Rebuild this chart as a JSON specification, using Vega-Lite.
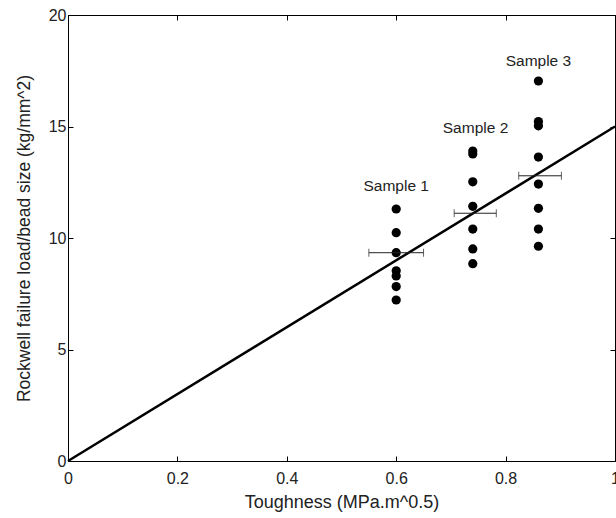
{
  "$schema": "https://vega.github.io/schema/vega-lite/v6.json",
  "width": 547,
  "height": 446,
  "autosize": {"type": "none"},
  "padding": {"left": 68, "top": 15, "right": 1, "bottom": 57},
  "background": "white",
  "config": {
    "view": {"stroke": "black", "strokeWidth": 1},
    "font": "Liberation Sans",
    "axis": {
      "grid": false,
      "domainColor": "black",
      "tickColor": "black",
      "tickSize": -5,
      "labelColor": "#222",
      "labelFontSize": 16,
      "labelFont": "Liberation Sans",
      "titleFont": "Liberation Sans",
      "titleFontWeight": "normal",
      "titleColor": "#222"
    }
  },
  "datasets": {
    "points": [
      {"sample": "Sample 1", "toughness": 0.6, "load": 11.3},
      {"sample": "Sample 1", "toughness": 0.6, "load": 10.24},
      {"sample": "Sample 1", "toughness": 0.6, "load": 9.34},
      {"sample": "Sample 1", "toughness": 0.6, "load": 8.53},
      {"sample": "Sample 1", "toughness": 0.6, "load": 8.3},
      {"sample": "Sample 1", "toughness": 0.6, "load": 7.82},
      {"sample": "Sample 1", "toughness": 0.6, "load": 7.22},
      {"sample": "Sample 2", "toughness": 0.74, "load": 13.9},
      {"sample": "Sample 2", "toughness": 0.74, "load": 13.77},
      {"sample": "Sample 2", "toughness": 0.74, "load": 12.52},
      {"sample": "Sample 2", "toughness": 0.74, "load": 11.42},
      {"sample": "Sample 2", "toughness": 0.74, "load": 10.4},
      {"sample": "Sample 2", "toughness": 0.74, "load": 9.51},
      {"sample": "Sample 2", "toughness": 0.74, "load": 8.85},
      {"sample": "Sample 3", "toughness": 0.86, "load": 17.04},
      {"sample": "Sample 3", "toughness": 0.86, "load": 15.22},
      {"sample": "Sample 3", "toughness": 0.86, "load": 15.03},
      {"sample": "Sample 3", "toughness": 0.86, "load": 13.63},
      {"sample": "Sample 3", "toughness": 0.86, "load": 12.42},
      {"sample": "Sample 3", "toughness": 0.86, "load": 11.33},
      {"sample": "Sample 3", "toughness": 0.86, "load": 10.4},
      {"sample": "Sample 3", "toughness": 0.86, "load": 9.63}
    ],
    "errbars": [
      {"sample": "Sample 1", "lo": 0.55, "hi": 0.65, "load": 9.34},
      {"sample": "Sample 2", "lo": 0.706, "hi": 0.783, "load": 11.11},
      {"sample": "Sample 3", "lo": 0.824, "hi": 0.902, "load": 12.79}
    ],
    "fit": [
      {"toughness": 0, "load": 0},
      {"toughness": 1, "load": 15}
    ],
    "labels": [
      {"sample": "Sample 1", "toughness": 0.6, "load": 12.35},
      {"sample": "Sample 2", "toughness": 0.745, "load": 14.93},
      {"sample": "Sample 3", "toughness": 0.86, "load": 17.93}
    ]
  },
  "resolve": {"axis": {"x": "independent", "y": "independent"}},
  "layer": [
    {
      "data": {"name": "points"},
      "mark": {"type": "point", "filled": true, "color": "black", "size": 85, "opacity": 1},
      "encoding": {
        "x": {"field": "toughness", "type": "quantitative", "scale": {"domain": [0, 1], "nice": false},
          "axis": {"orient": "bottom", "values": [0, 0.2, 0.4, 0.6, 0.8, 1], "format": "~g", "title": "Toughness (MPa.m^0.5)", "titleFontSize": 18, "labelPadding": 14, "titlePadding": 7, "labelFlush": false}},
        "y": {"field": "load", "type": "quantitative", "scale": {"domain": [0, 20], "nice": false},
          "axis": {"orient": "left", "values": [0, 5, 10, 15, 20], "format": "~g", "title": "Rockwell failure load/bead size (kg/mm^2)", "titleFontSize": 17.5, "labelPadding": 7, "titlePadding": 15, "labelFlush": false}}
      }
    },
    {
      "data": {"name": "fit"},
      "mark": {"type": "line", "color": "black", "strokeWidth": 2.5},
      "encoding": {
        "x": {"field": "toughness", "type": "quantitative",
          "axis": {"orient": "top", "values": [0, 0.2, 0.4, 0.6, 0.8, 1], "labels": false, "title": null}},
        "y": {"field": "load", "type": "quantitative",
          "axis": {"orient": "right", "values": [0, 5, 10, 15, 20], "labels": false, "title": null}}
      }
    },
    {
      "data": {"name": "errbars"},
      "mark": {"type": "rule", "color": "#222", "strokeWidth": 1},
      "encoding": {
        "x": {"field": "lo", "type": "quantitative", "axis": null},
        "x2": {"field": "hi"},
        "y": {"field": "load", "type": "quantitative", "axis": null}
      }
    },
    {
      "data": {"name": "errbars"},
      "mark": {"type": "tick", "color": "#222", "orient": "vertical", "size": 8, "thickness": 1},
      "encoding": {
        "x": {"field": "lo", "type": "quantitative", "axis": null},
        "y": {"field": "load", "type": "quantitative", "axis": null}
      }
    },
    {
      "data": {"name": "errbars"},
      "mark": {"type": "tick", "color": "#222", "orient": "vertical", "size": 8, "thickness": 1},
      "encoding": {
        "x": {"field": "hi", "type": "quantitative", "axis": null},
        "y": {"field": "load", "type": "quantitative", "axis": null}
      }
    },
    {
      "data": {"name": "labels"},
      "mark": {"type": "text", "color": "#222", "fontSize": 15.5, "font": "Liberation Sans", "align": "center", "baseline": "middle"},
      "encoding": {
        "x": {"field": "toughness", "type": "quantitative", "axis": null},
        "y": {"field": "load", "type": "quantitative", "axis": null},
        "text": {"field": "sample", "type": "nominal"}
      }
    }
  ]
}
